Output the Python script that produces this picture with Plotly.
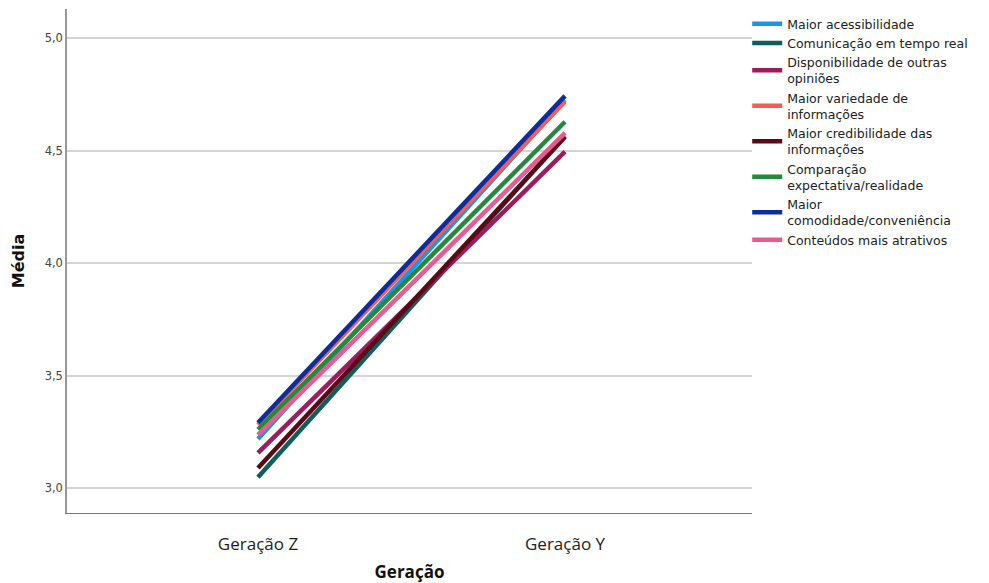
import plotly.graph_objects as go

categories = ["Geração Z", "Geração Y"]

series_names = [
    "Maior acessibilidade",
    "Comunicação em tempo real",
    "Disponibilidade de outras<br>opiniões",
    "Maior variedade de<br>informações",
    "Maior credibilidade das<br>informações",
    "Comparação<br>expectativa/realidade",
    "Maior<br>comodidade/conveniência",
    "Conteúdos mais atrativos",
]

acessibilidade = [3.218, 4.725]
comunicacao = [3.048, 4.565]
disponibilidade = [3.156, 4.495]
variedade = [3.280, 4.718]
credibilidade = [3.089, 4.560]
comparacao = [3.260, 4.628]
comodidade = [3.290, 4.743]
conteudos = [3.236, 4.578]

series_values = [acessibilidade, comunicacao, disponibilidade, variedade,
                 credibilidade, comparacao, comodidade, conteudos]

colors = ["#1F93E6", "#0E5E5A", "#9C1C5C", "#F85A56",
          "#5A0A14", "#238A3C", "#0B2E9C", "#E95A8E"]

y_ticks = [3.0, 3.5, 4.0, 4.5, 5.0]

fig = go.Figure()
for name, vals, col in zip(series_names, series_values, colors):
    fig.add_trace(go.Scatter(
        x=categories, y=vals, mode="lines", name=name,
        line=dict(color=col, width=4.5),
    ))

fig.update_layout(
    width=989, height=583,
    margin=dict(l=67, r=237, t=9, b=70),
    paper_bgcolor="white", plot_bgcolor="white",
    separators=",.",
    showlegend=True,
    legend=dict(
        x=0.993, xanchor="left", y=1.0, yanchor="top",
        font=dict(family="DejaVu Sans", size=12.5, color="#222222"),
        bgcolor="rgba(0,0,0,0)", tracegroupgap=0,
        itemwidth=30,
    ),
)

fig.update_xaxes(
    type="category", range=[-0.622, 1.609],
    showgrid=False, zeroline=False, automargin=False,
    showline=True, linecolor="#777777", linewidth=1,
    ticks="", ticklabelstandoff=16,
    tickfont=dict(family="Open Sans", size=17, color="#222222"),
    title=dict(text="<b>Geração</b>", font=dict(family="Open Sans", size=17, color="#111111"), standoff=16),
)

fig.update_yaxes(
    range=[2.889, 5.129], automargin=False,
    tickvals=y_ticks, tickformat=".1f",
    showgrid=True, gridcolor="#D4D4D4", gridwidth=1.5,
    zeroline=False,
    showline=True, linecolor="#999999", linewidth=1.5,
    ticks="", tickfont=dict(family="DejaVu Sans", size=11.5, color="#444444"),
    title=dict(text="<b>Média</b>", font=dict(family="DejaVu Sans", size=16, color="#111111"), standoff=16),
)

fig.write_html(
    "out.html",
    config={"displayModeBar": False},
    post_script="document.body.style.margin='0';document.body.style.overflow='hidden';",
)
